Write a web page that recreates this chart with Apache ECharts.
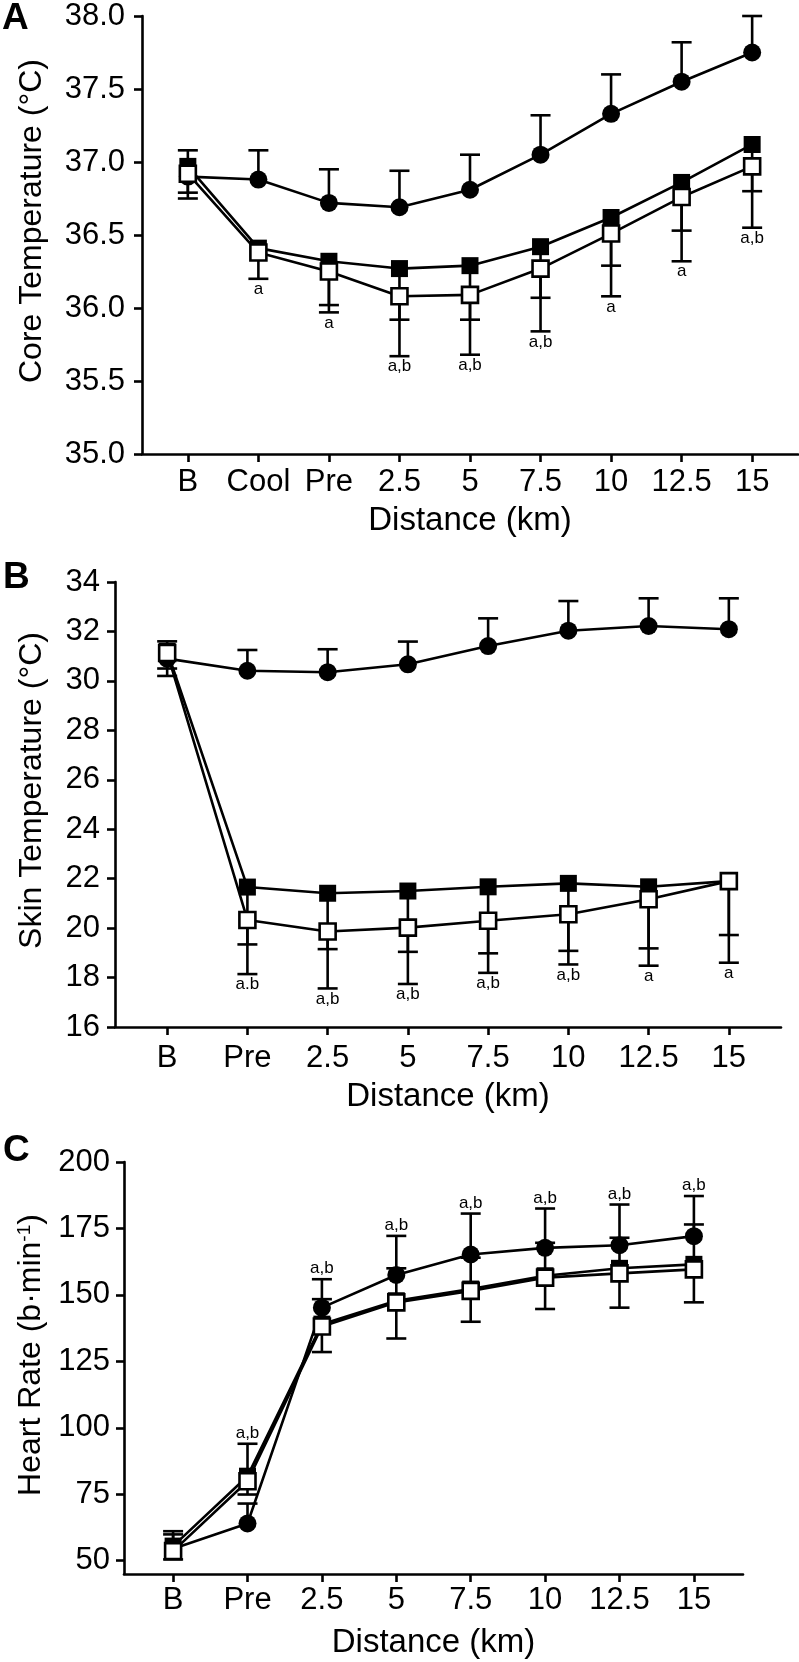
<!DOCTYPE html>
<html><head><meta charset="utf-8">
<script src="https://cdn.jsdelivr.net/npm/echarts@6/dist/echarts.min.js"></script>
<style>html,body{margin:0;padding:0;background:#fff}#c{width:799px;height:1662px}</style>
</head><body><div id="c"></div>
<script>
const FONT = '"Liberation Sans", Arial, Helvetica, sans-serif';

// ---------- Panel A : core temperature ----------
const catsA = ['B','Cool','Pre','2.5','5','7.5','10','12.5','15'];
const circleA     = [36.90, 36.88, 36.72, 36.69, 36.81, 37.05, 37.33, 37.55, 37.75];
const circleAErr  = [37.08, 37.08, 36.95, 36.94, 37.05, 37.32, 37.60, 37.82, 38.00];
const filledA     = [36.97, 36.41, 36.32, 36.27, 36.29, 36.42, 36.62, 36.86, 37.12];
const filledAErr  = [36.79, null,  36.02, 35.92, 35.92, 36.07, 36.29, 36.53, 36.80];
const openA       = [36.92, 36.38, 36.25, 36.08, 36.09, 36.27, 36.51, 36.76, 36.97];
const openAErr    = [36.75, 36.20, 35.97, 35.67, 35.68, 35.84, 36.08, 36.32, 36.55];
const sigA        = ['', 'a', 'a', 'a,b', 'a,b', 'a,b', 'a', 'a', 'a,b'];

// ---------- Panel B : skin temperature ----------
const catsB = ['B','Pre','2.5','5','7.5','10','12.5','15'];
const circleB     = [30.90, 30.41, 30.35, 30.67, 31.41, 32.03, 32.22, 32.09];
const circleBErr  = [31.60, 31.25, 31.28, 31.59, 32.53, 33.23, 33.34, 33.34];
const filledB     = [31.20, 21.66, 21.41, 21.50, 21.67, 21.81, 21.67, 21.90];
const filledBErr  = [30.50, 19.34, 19.15, 19.04, 18.98, 19.08, 19.18, 19.72];
const openB       = [31.13, 20.33, 19.86, 20.02, 20.30, 20.56, 21.17, 21.90];
const openBErr    = [30.20, 18.14, 17.56, 17.74, 18.19, 18.53, 18.48, 18.60];
const sigB        = ['', 'a.b', 'a,b', 'a,b', 'a,b', 'a,b', 'a', 'a'];

// ---------- Panel C : heart rate ----------
const catsC = ['B','Pre','2.5','5','7.5','10','12.5','15'];
const circleC     = [54.5, 64.0, 145.2, 157.5, 165.2, 167.7, 168.7, 172.1];
const circleCErr  = [61.1, 71.5, 155.9, 172.2, 180.6, 182.5, 184.0, 187.2];
const filledC     = [55.5, 81.8, 139.0, 147.8, 152.2, 157.2, 160.0, 161.5];
const filledCErr  = [59.9, 94.0, 148.4, 160.0, 164.0, 169.6, 171.5, 176.5];
const openC       = [53.6, 79.9, 138.1, 147.2, 151.5, 156.5, 158.1, 159.6];
const openCErr    = [50.5, 74.9, 128.5, 133.6, 139.9, 144.7, 145.2, 147.2];
const sigC        = ['', 'a,b', 'a,b', 'a,b', 'a,b', 'a,b', 'a,b', 'a,b'];
const ticksC      = [50, 75, 100, 125, 150, 175, 200];

// ---------- helpers ----------
const LW = 2.6;
const TICK_FS = 31, XNAME_FS = 33, YNAME_FS = 32;
function pts(arr){ return arr.map((v,i)=>[i,v]); }
function errData(vals, ends){
  const out=[]; vals.forEach((v,i)=>{ if(ends[i]!=null) out.push([i,v,ends[i]]); }); return out;
}
function errRender(params, api){
  const x=api.value(0), v=api.value(1), e=api.value(2);
  const p0=api.coord([x,v]), p1=api.coord([x,e]);
  const hw=10;
  return {type:'group', children:[
    {type:'line', shape:{x1:p0[0],y1:p0[1],x2:p1[0],y2:p1[1]}, style:{stroke:'#000',lineWidth:LW}},
    {type:'line', shape:{x1:p1[0]-hw,y1:p1[1],x2:p1[0]+hw,y2:p1[1]}, style:{stroke:'#000',lineWidth:LW}}
  ]};
}
function sigData(sig, endsList, above){
  const out=[];
  sig.forEach((s,i)=>{
    if(!s) return;
    const vals=endsList.map(a=>a[i]).filter(v=>v!=null);
    out.push([i, above?Math.max(...vals):Math.min(...vals), s]);
  });
  return out;
}
function sigRender(above){
  return function(params, api){
    const x=api.value(0), v=api.value(1);
    const p=api.coord([x,v]);
    return {type:'text', x:p[0], y: above? p[1]-2 : p[1]+2,
      style:{text: api.value(2), align:'center', verticalAlign: above?'bottom':'top',
             font:'17px '+FONT, fill:'#000'}};
  };
}
function xAxisFor(gi, cats, lo, hi, labelMargin, nameGap){
  const idx=cats.map((c,i)=>i);
  return {type:'value', gridIndex:gi, min:lo, max:hi,
    name:'Distance (km)', nameLocation:'middle', nameGap: nameGap,
    nameTextStyle:{fontFamily:FONT, fontSize:XNAME_FS, color:'#000'},
    splitLine:{show:false},
    axisLine:{onZero:false, lineStyle:{color:'#000', width:LW}},
    axisTick:{customValues:idx, length:8, lineStyle:{color:'#000', width:LW}},
    axisLabel:{customValues:idx, formatter:v=>cats[Math.round(v)], margin:labelMargin,
               fontFamily:FONT, fontSize:TICK_FS, color:'#000'}};
}
function yAxisFor(gi, opts, labelMargin, labelExtra){
  return Object.assign({type:'value', gridIndex:gi, nameLocation:'middle',
    nameTextStyle:{fontFamily:FONT, fontSize:YNAME_FS, color:'#000', padding:[0,0,0,28]},
    splitLine:{show:false},
    axisLine:{show:true, onZero:false, lineStyle:{color:'#000', width:LW}},
    axisTick:{show:true, length:8, lineStyle:{color:'#000', width:LW}},
    axisLabel:Object.assign({margin:labelMargin, fontFamily:FONT, fontSize:TICK_FS, color:'#000'}, labelExtra||{})}, opts);
}
function panelSeries(gi, circ, circErr, fill, fillErr, open, openErr, sig, above){
  const base={xAxisIndex:gi, yAxisIndex:gi};
  return [
    Object.assign({type:'custom', renderItem:errRender, data:errData(circ,circErr), z:1, encode:{x:0,y:1}}, base),
    Object.assign({type:'custom', renderItem:errRender, data:errData(fill,fillErr), z:1, encode:{x:0,y:1}}, base),
    Object.assign({type:'custom', renderItem:errRender, data:errData(open,openErr), z:1, encode:{x:0,y:1}}, base),
    Object.assign({type:'line', data:pts(circ), symbol:'circle', symbolSize:18, z:2,
      lineStyle:{color:'#000', width:LW}, itemStyle:{color:'#000', borderWidth:0}}, base),
    Object.assign({type:'line', data:pts(fill), symbol:'rect', symbolSize:17, z:3,
      lineStyle:{color:'#000', width:LW}, itemStyle:{color:'#000', borderWidth:0}}, base),
    Object.assign({type:'line', data:pts(open), symbol:'rect', symbolSize:16, z:4,
      lineStyle:{color:'#000', width:LW}, itemStyle:{color:'#fff', borderColor:'#000', borderWidth:2.6}}, base),
    Object.assign({type:'custom', renderItem:sigRender(above), data:sigData(sig,[circErr,fillErr,openErr],above), z:5, encode:{x:0,y:1}}, base)
  ];
}

const chart = echarts.init(document.getElementById('c'), null, {renderer:'canvas'});
const option = {
  animation:false,
  backgroundColor:'#fff',
  grid:[
    {left:142, top:16, width:656, height:438, outerBoundsMode:'none'},
    {left:115, top:582, width:666, height:445, outerBoundsMode:'none'},
    {left:124, top:1162, width:619, height:412, outerBoundsMode:'none'}
  ],
  xAxis:[
    xAxisFor(0, catsA, -0.65, 8.65, 13, 50),
    xAxisFor(1, catsB, -0.65, 7.65, 16, 53),
    xAxisFor(2, catsC, -0.66, 7.66, 11, 52)
  ],
  yAxis:[
    yAxisFor(0, {min:35, max:38, interval:0.5, name:'Core Temperature (°C)', nameGap:94}, 17,
      {formatter:v=>v.toFixed(1)}),
    yAxisFor(1, {min:16, max:34, interval:2, name:'Skin Temperature (°C)', nameGap:67}, 15),
    yAxisFor(2, {min:45, max:200, name:'Heart Rate (b·min{sup|-1})', nameGap:71,
      nameTextStyle:{fontFamily:FONT, fontSize:YNAME_FS, color:'#000', padding:[0,0,0,26],
        rich:{sup:{fontFamily:FONT, fontSize:19, color:'#000', verticalAlign:'top', padding:[0,0,14,0]}}},
      axisTick:{show:true, customValues:ticksC, length:8, lineStyle:{color:'#000', width:LW}}}, 14,
      {customValues:ticksC})
  ],
  graphic:[
    {type:'text', left:2, top:0, style:{text:'A', font:'bold 37px '+FONT, fill:'#000'}},
    {type:'text', left:3, top:559, style:{text:'B', font:'bold 37px '+FONT, fill:'#000'}},
    {type:'text', left:3, top:1132, style:{text:'C', font:'bold 37px '+FONT, fill:'#000'}}
  ],
  series:[].concat(
    panelSeries(0, circleA, circleAErr, filledA, filledAErr, openA, openAErr, sigA, false),
    panelSeries(1, circleB, circleBErr, filledB, filledBErr, openB, openBErr, sigB, false),
    panelSeries(2, circleC, circleCErr, filledC, filledCErr, openC, openCErr, sigC, true)
  )
};
chart.setOption(option);
</script></body></html>
